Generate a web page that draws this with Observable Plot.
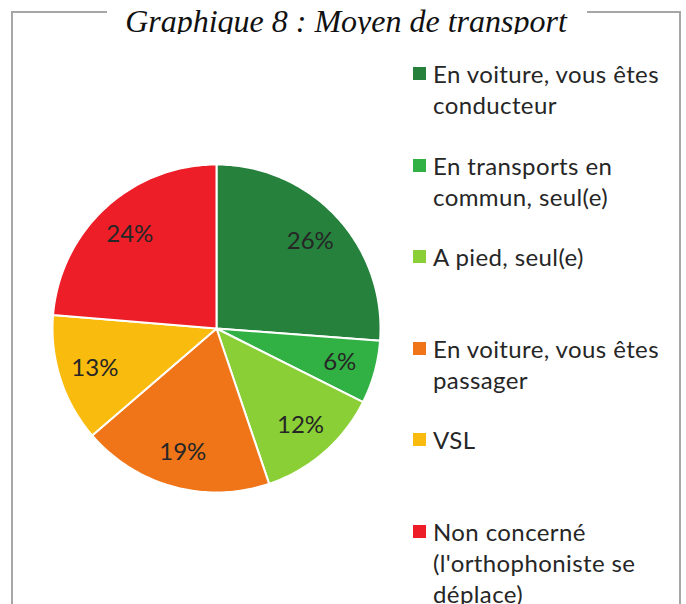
<!DOCTYPE html>
<html>
<head>
<meta charset="utf-8">
<script src="https://cdn.jsdelivr.net/npm/d3@7"></script>
<script src="https://cdn.jsdelivr.net/npm/@observablehq/plot@0.6"></script>
<style>
  html, body { margin: 0; padding: 0; background: #ffffff; }
  #root { position: relative; width: 686px; height: 604px; overflow: hidden; background: #fff; font-family: Lato, "Open Sans", sans-serif; }
  .fl { position: absolute; background: #a6a6a6; }
  #title { position: absolute; left: 12px; width: 668px; top: 0; height: 34px; overflow: hidden; text-align: center; }
  #title span { display: block; padding-top: 4px; font-family: "Liberation Serif", "Times New Roman", serif; font-style: italic; font-size: 32px; line-height: 35px; color: #111; }
  #pie { position: absolute; left: 46px; top: 158px; }
  .lg { position: absolute; left: 413px; width: 266px; }
  .lg .sw { position: absolute; left: 0; top: 9px; width: 13px; height: 13px; }
  .lg .tx { position: absolute; left: 20px; top: 0; font-size: 24px; line-height: 31px; letter-spacing: 0.4px; color: #262626; white-space: nowrap; }
</style>
</head>
<body>
<div id="root">
  <div class="fl" style="left:11px;top:11px;width:2px;height:600px"></div>
  <div class="fl" style="left:679px;top:11px;width:2px;height:600px"></div>
  <div class="fl" style="left:11px;top:11px;width:96px;height:2px"></div>
  <div class="fl" style="left:587px;top:11px;width:94px;height:2px"></div>
  <div id="title"><span>Graphique 8 : Moyen de transport</span></div>
  <div id="pie"></div>
  <div id="legend"></div>
</div>
<script>
// ---- Data ----
const categories = [
  "En voiture, vous êtes conducteur",
  "En transports en commun, seul(e)",
  "A pied, seul(e)",
  "En voiture, vous êtes passager",
  "VSL",
  "Non concerné (l'orthophoniste se déplace)"
];
const legendLines = [
  ["En voiture, vous êtes", "conducteur"],
  ["En transports en", "commun, seul(e)"],
  ["A pied, seul(e)"],
  ["En voiture, vous êtes", "passager"],
  ["VSL"],
  ["Non concerné", "(l'orthophoniste se", "déplace)"]
];
const values = [26.2, 6.2, 12.4, 18.9, 12.6, 23.7];
const labels = ["26%", "6%", "12%", "19%", "13%", "24%"];
const colors = ["#25813c", "#31b143", "#8acf35", "#f07519", "#f9bb0d", "#ed1e27"];

// ---- Build slice outlines (in unit-circle data space) from the values ----
const total = d3.sum(values);
const slices = [];
let acc = 0;
values.forEach((v, i) => {
  const a0 = acc / total * 2 * Math.PI;
  acc += v;
  const a1 = acc / total * 2 * Math.PI;
  slices.push({cat: categories[i], a0, a1, label: labels[i]});
});
const pts = [];
for (const s of slices) {
  pts.push({cat: s.cat, x: 0, y: 0});
  const n = Math.max(8, Math.ceil((s.a1 - s.a0) / (Math.PI / 180)));
  for (let k = 0; k <= n; k++) {
    const a = s.a0 + (s.a1 - s.a0) * k / n;
    pts.push({cat: s.cat, x: Math.sin(a), y: Math.cos(a)});
  }
  pts.push({cat: s.cat, x: 0, y: 0});
}
const labelPts = slices.map(s => {
  const m = (s.a0 + s.a1) / 2;
  return {x: 0.78 * Math.sin(m), y: 0.78 * Math.cos(m), label: s.label};
});

const chart = Plot.plot({
  width: 340,
  height: 340,
  marginTop: 6, marginBottom: 6, marginLeft: 6, marginRight: 6,
  x: {domain: [-1, 1], axis: null},
  y: {domain: [-1, 1], axis: null},
  color: {domain: categories, range: colors},
  style: {background: "transparent"},
  marks: [
    Plot.line(pts, {x: "x", y: "y", z: "cat", fill: "cat", stroke: "#ffffff", strokeWidth: 2, strokeLinejoin: "round", curve: "linear"}),
    Plot.text(labelPts, {x: "x", y: "y", text: "label", fontSize: 24, fill: "#262626", fontFamily: "Lato, 'Open Sans', sans-serif"})
  ]
});
document.getElementById("pie").appendChild(chart);

// ---- Legend ----
const legend = document.getElementById("legend");
categories.forEach((c, i) => {
  const item = document.createElement("div");
  item.className = "lg";
  item.style.top = (58 + i * 91.6) + "px";
  const sw = document.createElement("div");
  sw.className = "sw";
  sw.style.background = colors[i];
  const tx = document.createElement("div");
  tx.className = "tx";
  tx.innerHTML = legendLines[i].map(t => t.replace(/&/g, "&amp;").replace(/</g, "&lt;")).join("<br>");
  item.appendChild(sw);
  item.appendChild(tx);
  legend.appendChild(item);
});
</script>
</body>
</html>
